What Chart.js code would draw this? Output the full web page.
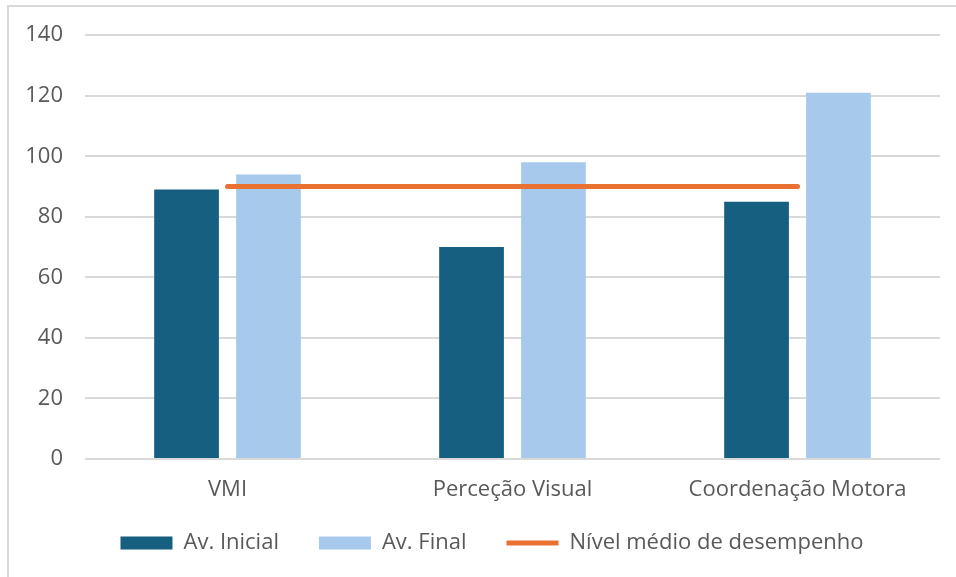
<!DOCTYPE html>
<html>
<head>
<meta charset="utf-8">
<script src="https://cdn.jsdelivr.net/npm/chart.js@4"></script>
<style>
  html, body { margin: 0; padding: 0; background: #fff; }
  #wrap { position: relative; width: 956px; height: 577px; overflow: hidden; }
  #frame { position: absolute; left: 7px; top: 5px; width: 1000px; height: 700px;
           border: 2px solid #d9d9d9; box-sizing: border-box; pointer-events: none; }
  canvas { position: absolute; left: 0; top: 0; }
</style>
</head>
<body>
<div id="wrap">
  <div id="frame"></div>
  <canvas id="chart" width="956" height="577"></canvas>
</div>
<script>
// categories and values
const categories = ['VMI', 'Perceção Visual', 'Coordenação Motora'];
const avInicial = [89, 70, 85];
const avFinal = [94, 98, 121];
const nivelMedio = [90, 90, 90];
const yTicks = [0, 20, 40, 60, 80, 100, 120, 140];

const textColor = '#595959';
const font = { family: '"Open Sans", sans-serif', size: 22 };

// pull the legend row up closer to the axis labels and centre it under the plot
const legendNudge = {
  id: 'legendNudge',
  afterLayout(chart) {
    const lg = chart.legend;
    if (!lg) return;
    lg.top -= 11;
    lg.bottom -= 11;
    lg.left += 22;
    lg.right += 22;
  }
};

const ctx = document.getElementById('chart').getContext('2d');
new Chart(ctx, {
  data: {
    labels: categories,
    datasets: [
      {
        type: 'line',
        label: 'Nível médio de desempenho',
        data: nivelMedio,
        borderColor: '#e97132',
        backgroundColor: '#e97132',
        borderWidth: 5,
        borderCapStyle: 'round',
        pointRadius: 0,
        order: 0
      },
      {
        type: 'bar',
        label: 'Av. Inicial',
        data: avInicial,
        backgroundColor: '#175f80',
        order: 1
      },
      {
        type: 'bar',
        label: 'Av. Final',
        data: avFinal,
        backgroundColor: '#a7caec',
        order: 1
      }
    ]
  },
  options: {
    responsive: false,
    animation: false,
    datasets: {
      bar: { categoryPercentage: 0.575, barPercentage: 0.79 }
    },
    layout: { padding: { left: 0, right: 16, top: 22, bottom: 2 } },
    scales: {
      x: {
        grid: { display: false, drawTicks: false },
        border: { display: false },
        ticks: { color: textColor, font: font, padding: 18 },
        afterFit: scale => { scale.height = 44; }
      },
      y: {
        min: 0,
        max: 140,
        afterBuildTicks: axis => { axis.ticks = yTicks.map(v => ({ value: v })); },
        grid: { color: '#d9d9d9', lineWidth: 2, drawTicks: false },
        border: { display: false },
        ticks: { color: textColor, font: font, padding: 22 },
        afterFit: scale => { scale.width = 85; }
      }
    },
    plugins: {
      tooltip: { enabled: false },
      legend: {
        position: 'bottom',
        labels: {
          color: textColor,
          font: font,
          usePointStyle: true,
          pointStyleWidth: 52,
          boxHeight: 13,
          padding: 40,
          // bars first, line last
          sort: (a, b) => {
            const rank = i => (i.datasetIndex === 0 ? 2 : i.datasetIndex - 1);
            return rank(a) - rank(b);
          },
          generateLabels: chart => {
            const items = Chart.defaults.plugins.legend.labels.generateLabels(chart);
            items.forEach(item => {
              item.pointStyle = item.datasetIndex === 0 ? 'line' : 'rect';
              if (item.datasetIndex !== 0) item.lineWidth = 0;
            });
            return items;
          }
        }
      }
    }
  },
  plugins: [legendNudge]
});
</script>
</body>
</html>
